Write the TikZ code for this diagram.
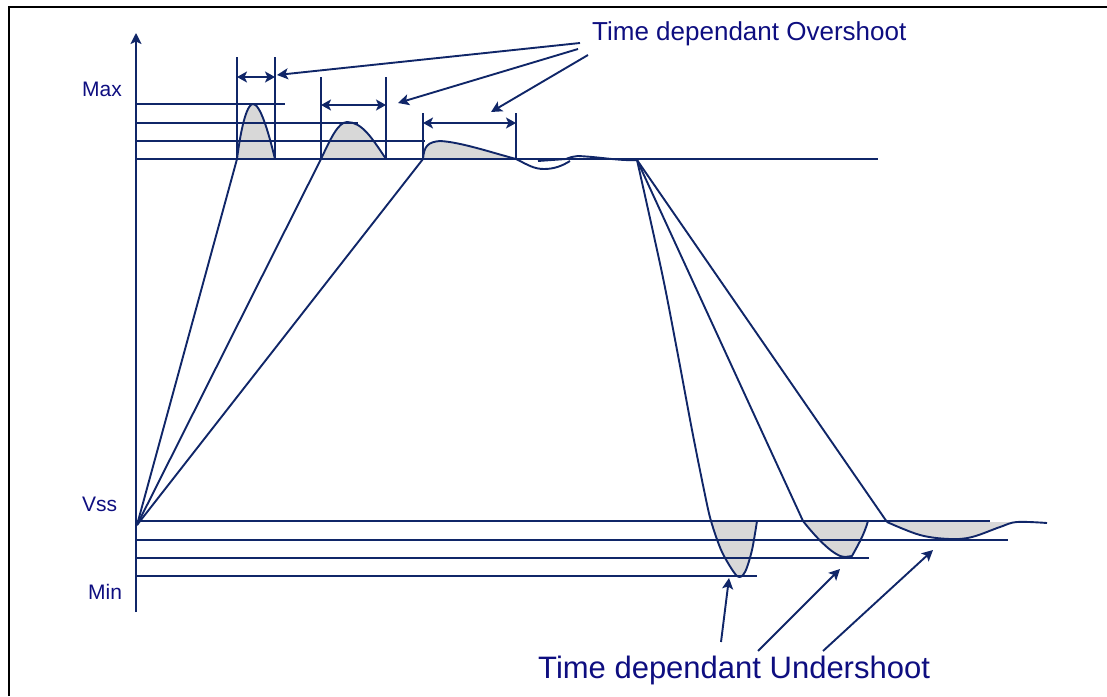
\documentclass[tikz,border=0pt]{standalone}
\usepackage{fontspec}
\setmainfont{Liberation Sans}
\usetikzlibrary{arrows.meta}
\definecolor{navyline}{RGB}{16,38,104}
\definecolor{navytext}{RGB}{14,14,128}
\definecolor{greyfill}{RGB}{216,216,216}
\tikzset{
  ln/.style={draw=navyline,line width=1.9pt,line join=round},
  gfill/.style={fill=greyfill,draw=none},
  tipd/.style={ln,{Stealth[length=10pt,width=11pt,inset=2.5pt]}-{Stealth[length=10pt,width=11pt,inset=2.5pt]}},
  tips/.style={ln,-{Stealth[length=11pt,width=11pt,inset=2.5pt]}},
  lbl/.style={text=navytext,inner sep=0pt,anchor=base west,font=\fontsize{21}{24}\selectfont},
}
\begin{document}
\begin{tikzpicture}[x=1pt,y=-1pt]
\useasboundingbox (0,0) rectangle (1107,696);
% frame
\draw[line width=2.4pt] (9,696) -- (9,7) -- (1107,7);

% fills (overshoot)
\path[gfill] (237,159) .. controls (242,120) and (248,104) .. (253,104) .. controls (260,104) and (268,130) .. (275,159) -- cycle;
\path[gfill] (321,159) .. controls (330,140) and (338,122) .. (347,122) .. controls (362,122) and (372,138) .. (386,159) -- cycle;
\path[gfill] (423,159) .. controls (424,146) and (428,142) .. (440,141) .. controls (460,142) and (490,152) .. (516,159) -- cycle;
% fills (undershoot)
\path[gfill] plot[smooth,tension=0.6] coordinates {(711,521) (722,552) (737,576) (745,572) (752,550) (757,521)} -- cycle;
\path[gfill] (803,521) .. controls (818,540) and (835,557) .. (845,557) -- (852,556) .. controls (858,545) and (864,535) .. (868,521) -- cycle;
\path[gfill] plot[smooth,tension=0.6] coordinates {(887,522) (920,535) (950,539) (972,537) (1000,527) (1017,522)} -- cycle;

% axis
\coordinate (axb) at (136,612);
\coordinate (axt) at (136,33);
\draw[tips] (axb) -- (axt);

% horizontal reference lines
\draw[ln] (136,104) -- (285,104);
\draw[ln] (136,123) -- (358,123);
\draw[ln] (136,141) -- (425,141);
\draw[ln] (136,159) -- (878,159);
\draw[ln] (136,521) -- (990,521);
\draw[ln] (136,540) -- (1008,540);
\draw[ln] (136,558) -- (869,558);
\draw[ln] (136,576) -- (757,576);

% ramps and overshoots
\coordinate (o) at (137,525);
\draw[ln] (o) -- (237,159) .. controls (242,120) and (248,104) .. (253,104) .. controls (260,104) and (268,130) .. (275,159);
\draw[ln] (o) -- (321,159) .. controls (330,140) and (338,122) .. (347,122) .. controls (362,122) and (372,138) .. (386,159);
\draw[ln] (o) -- (423,159) .. controls (424,146) and (428,142) .. (440,141) .. controls (460,142) and (490,152) .. (516,159)
  .. controls (528,165) and (534,169) .. (544,169) .. controls (554,169) and (562,166) .. (570,161);
\draw[ln] (538,161) -- (566,159) .. controls (571,157) .. (578,156) .. controls (600,157) and (620,161) .. (637,160);

% falls and undershoots
\coordinate (f) at (637,160);
\draw[ln] plot[smooth,tension=0.5] coordinates {(637,160) (662,273) (677,350) (692,430) (704,490) (711,521) (722,552) (737,576) (745,572) (752,550) (757,521)};
\draw[ln] (f) -- (803,521) .. controls (818,540) and (835,557) .. (845,557) -- (852,556) .. controls (858,545) and (864,535) .. (868,521);
\draw[ln] (f) -- (887,522);
\draw[ln] plot[smooth,tension=0.6] coordinates {(887,522) (920,535) (950,539) (972,537) (1000,527) (1017,522) (1047,523)};

% pulse width markers
\draw[ln] (237,57) -- (237,159);
\draw[ln] (275,57) -- (275,159);
\draw[ln] (321,77) -- (321,159);
\draw[ln] (386,77) -- (386,159);
\draw[ln] (423,113) -- (423,159);
\draw[ln] (516,113) -- (516,159);
\draw[tipd] (237,77) -- (275,77);
\draw[tipd] (321,105) -- (386,105);
\draw[tipd] (423,123) -- (516,123);

% labels
\node[lbl] (max) at (82,96) {Max};
\node[lbl] (vss) at (82,511) {Vss};
\node[lbl] (min) at (88,599) {Min};
\node[lbl,font=\fontsize{26}{30}\selectfont] (over) at (592,40) {Time dependant Overshoot};
\node[lbl,font=\fontsize{31}{36}\selectfont] (under) at (538,678) {Time dependant Undershoot};

% callouts
\coordinate (oa) at (580,43);
\coordinate (ob) at (578,49);
\coordinate (oc) at (588,55);
\draw[tips] (oa) -- (277,75);
\draw[tips] (ob) -- (398,103);
\draw[tips] (oc) -- (491,112);
\coordinate (ua) at (721,642);
\coordinate (ub) at (758,651);
\coordinate (uc) at (823,651);
\draw[tips] (ua) -- (729,578);
\draw[tips] (ub) -- (840,569);
\draw[tips] (uc) -- (933,550);
\end{tikzpicture}
\end{document}
